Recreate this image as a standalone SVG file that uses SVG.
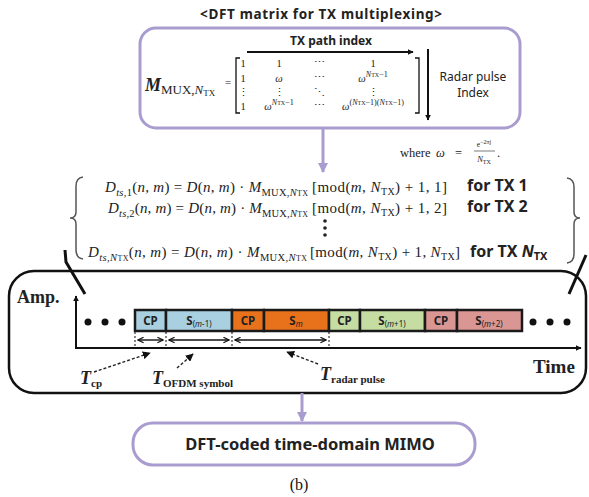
<svg xmlns="http://www.w3.org/2000/svg" width="589" height="497" viewBox="0 0 589 497">
<style>
.sans{font-family:"Noto Sans","Open Sans","Liberation Sans",sans-serif;}
.b{font-weight:bold;}
.ser{font-family:"Liberation Serif","DejaVu Serif",serif;}
.it{font-style:italic;}
.pbox{fill:#fff;stroke:#a99dcf;stroke-width:3;}
.parrow{stroke:#a99dcf;stroke-width:3;fill:none;}
.blk{stroke:#1a1a1a;stroke-width:2.5;}
.thin{stroke:#111;stroke-width:1.3;fill:none;}
.dash{stroke:#222;stroke-width:1.4;stroke-dasharray:3,2;fill:none;}
.sep{stroke:#334;stroke-width:1.2;stroke-dasharray:2,2;fill:none;}
.mx{font-family:"Liberation Serif","DejaVu Serif",serif;font-size:10.5px;fill:#222;}
.eq{font-family:"Liberation Serif","DejaVu Serif",serif;font-size:15px;fill:#222;}
.lbl{font-family:"Noto Sans","Open Sans","Liberation Sans",sans-serif;font-weight:bold;font-size:11.5px;fill:#222;}
</style>
<defs>
<marker id="ah" viewBox="0 0 10 10" refX="9" refY="5" markerWidth="6" markerHeight="6" orient="auto-start-reverse" markerUnits="userSpaceOnUse"><path d="M0,0 L10,5 L0,10 z" fill="#111"/></marker>
<marker id="ahp" viewBox="0 0 10 10" refX="9" refY="5" markerWidth="10" markerHeight="10" orient="auto" markerUnits="userSpaceOnUse"><path d="M0,0 L10,5 L0,10 z" fill="#a99dcf"/></marker>
<marker id="chev" viewBox="0 0 10 10" refX="9" refY="5" markerWidth="7" markerHeight="7" orient="auto-start-reverse" markerUnits="userSpaceOnUse"><path d="M1,1 L9,5 L1,9" fill="none" stroke="#111" stroke-width="1.6"/></marker>
<marker id="dh" viewBox="0 0 10 10" refX="9" refY="5" markerWidth="8" markerHeight="8" orient="auto" markerUnits="userSpaceOnUse"><path d="M0,0 L10,5 L0,10 z" fill="#111"/></marker>
</defs>
<rect width="589" height="497" fill="#fff"/>

<!-- Title -->
<text x="321" y="19" text-anchor="middle" class="sans b" font-size="13.5" fill="#222" textLength="242">&lt;DFT matrix for TX multiplexing&gt;</text>

<!-- Top matrix box -->
<g id="dft-matrix">
<rect class="pbox" x="140" y="28" width="380" height="100" rx="16"/>
<text x="331" y="45" text-anchor="middle" class="sans b" font-size="12" fill="#222">TX path index</text>
<line x1="247" y1="52" x2="413" y2="52" stroke="#111" stroke-width="2" marker-end="url(#ah)"/>
<line x1="428" y1="49" x2="428" y2="120" stroke="#111" stroke-width="2" marker-end="url(#ah)"/>
<text x="473" y="81" text-anchor="middle" class="sans" font-size="12" fill="#222">Radar pulse</text>
<text x="473" y="97" text-anchor="middle" class="sans" font-size="12" fill="#222">Index</text>
<text x="145" y="91" class="ser" fill="#222"><tspan font-size="18" font-weight="bold" font-style="italic">M</tspan><tspan font-size="13" baseline-shift="-3">MUX,<tspan font-style="italic">N</tspan><tspan font-size="9" baseline-shift="-2">TX</tspan></tspan></text>
<text x="225" y="86" class="ser" font-size="11" fill="#222">=</text>
<path d="M240,58 L236,58 L236,113 L240,113" class="thin"/>
<path d="M415,58 L419,58 L419,113 L415,113" class="thin"/>
<g class="mx" text-anchor="middle">
<text x="243" y="67">1</text><text x="279" y="67">1</text><text x="319" y="66">⋯</text><text x="373" y="67">1</text>
<text x="243" y="82">1</text><text x="279" y="82" font-style="italic">ω</text><text x="319" y="81">⋯</text>
<text x="373" y="82"><tspan font-style="italic">ω</tspan><tspan font-size="8" baseline-shift="5"><tspan font-style="italic">N</tspan><tspan font-size="6">TX</tspan>−1</tspan></text>
<text x="243" y="96">⋮</text><text x="279" y="96">⋮</text><text x="319" y="96">⋱</text><text x="373" y="96">⋮</text>
<text x="243" y="110">1</text>
<text x="279" y="110"><tspan font-style="italic">ω</tspan><tspan font-size="8" baseline-shift="5"><tspan font-style="italic">N</tspan><tspan font-size="6">TX</tspan>−1</tspan></text>
<text x="319" y="109">⋯</text>
<text x="373" y="110"><tspan font-style="italic">ω</tspan><tspan font-size="8" baseline-shift="5">(<tspan font-style="italic">N</tspan><tspan font-size="6">TX</tspan>−1)(<tspan font-style="italic">N</tspan><tspan font-size="6">TX</tspan>−1)</tspan></text>
</g>
</g>

<!-- where omega -->
<g id="where" class="ser" fill="#222">
<text x="400" y="157" font-size="12.5">where</text>
<text x="436" y="157" font-size="12.5" font-style="italic">ω</text>
<text x="455" y="157" font-size="12.5">=</text>
<text x="484" y="147" text-anchor="middle" font-size="7.5">e<tspan baseline-shift="3" font-size="6">−2πj</tspan></text>
<line x1="474" y1="151" x2="495" y2="151" stroke="#222" stroke-width="0.6"/>
<text x="484" y="162" text-anchor="middle" font-size="8.5"><tspan font-style="italic">N</tspan><tspan font-size="6" baseline-shift="-2">TX</tspan></text>
<text x="497" y="157" font-size="12.5">.</text>
</g>

<!-- Equations -->
<g id="equations">
<path d="M83,177 Q76,178 76,186 L76,212 Q76,218 70,218 Q76,218 76,224 L76,250 Q76,258 83,259" fill="none" stroke="#555" stroke-width="1.5"/>
<path d="M567,178 Q574,179 574,187 L574,212 Q574,218 580,218 Q574,218 574,224 L574,254 Q574,262 567,263" fill="none" stroke="#555" stroke-width="1.5"/>
<text x="105" y="192" class="eq" textLength="203"><tspan font-style="italic">D</tspan><tspan font-size="10.5" baseline-shift="-4"><tspan font-style="italic">ts</tspan>,1</tspan>(<tspan font-style="italic">n</tspan>, <tspan font-style="italic">m</tspan>) = <tspan font-style="italic">D</tspan>(<tspan font-style="italic">n</tspan>, <tspan font-style="italic">m</tspan>) · <tspan font-style="italic">M</tspan><tspan font-size="10.5" baseline-shift="-4">MUX,<tspan font-style="italic">N</tspan><tspan font-size="8">TX</tspan></tspan></text>
<text x="312" y="192" class="eq" textLength="135">[mod(<tspan font-style="italic">m</tspan>, <tspan font-style="italic">N</tspan><tspan font-size="10" baseline-shift="-3">TX</tspan>) + 1, 1]</text>
<text x="467" y="191" class="sans b" font-size="16" fill="#222">for TX 1</text>

<text x="108" y="213" class="eq" textLength="200"><tspan font-style="italic">D</tspan><tspan font-size="10.5" baseline-shift="-4"><tspan font-style="italic">ts</tspan>,2</tspan>(<tspan font-style="italic">n</tspan>, <tspan font-style="italic">m</tspan>) = <tspan font-style="italic">D</tspan>(<tspan font-style="italic">n</tspan>, <tspan font-style="italic">m</tspan>) · <tspan font-style="italic">M</tspan><tspan font-size="10.5" baseline-shift="-4">MUX,<tspan font-style="italic">N</tspan><tspan font-size="8">TX</tspan></tspan></text>
<text x="312" y="213" class="eq" textLength="135">[mod(<tspan font-style="italic">m</tspan>, <tspan font-style="italic">N</tspan><tspan font-size="10" baseline-shift="-3">TX</tspan>) + 1, 2]</text>
<text x="467" y="212" class="sans b" font-size="16" fill="#222">for TX 2</text>

<circle cx="325" cy="221" r="1.8" fill="#222"/>
<circle cx="325" cy="228" r="1.8" fill="#222"/>
<circle cx="325" cy="235" r="1.8" fill="#222"/>

<text x="88" y="257" class="eq" textLength="219"><tspan font-style="italic">D</tspan><tspan font-size="10.5" baseline-shift="-4"><tspan font-style="italic">ts</tspan>,<tspan font-style="italic">N</tspan><tspan font-size="8">TX</tspan></tspan>(<tspan font-style="italic">n</tspan>, <tspan font-style="italic">m</tspan>) = <tspan font-style="italic">D</tspan>(<tspan font-style="italic">n</tspan>, <tspan font-style="italic">m</tspan>) · <tspan font-style="italic">M</tspan><tspan font-size="10.5" baseline-shift="-4">MUX,<tspan font-style="italic">N</tspan><tspan font-size="8">TX</tspan></tspan></text>
<text x="310" y="257" class="eq" textLength="150">[mod(<tspan font-style="italic">m</tspan>, <tspan font-style="italic">N</tspan><tspan font-size="10" baseline-shift="-3">TX</tspan>) + 1, <tspan font-style="italic">N</tspan><tspan font-size="10" baseline-shift="-3">TX</tspan>]</text>
<text x="470" y="257" class="sans b" font-size="16" fill="#222">for TX <tspan font-style="italic">N</tspan><tspan font-size="11" baseline-shift="-3">TX</tspan></text>
</g>

<!-- Time-domain frame -->
<g id="time-frame">
<rect x="9" y="271" width="577" height="122" rx="25" fill="none" stroke="#111" stroke-width="2.5"/>
<text x="17" y="303" class="ser b" font-size="18" fill="#222">Amp.</text>
<text x="533" y="373" class="ser b" font-size="19" fill="#222">Time</text>
</g>

<!-- zoom lines -->
<polyline points="65,250 66,262 85,294" fill="none" stroke="#111" stroke-width="3"/>
<line x1="586" y1="255" x2="569" y2="294" stroke="#111" stroke-width="3"/>

<!-- blocks -->
<g id="blocks">
<g id="blk-m-1">
<rect x="135" y="310" width="31" height="21" fill="#a9d0e0" class="blk"/>
<rect x="166" y="310" width="66" height="21" fill="#a9d0e0" class="blk"/>
<text x="150.5" y="325" text-anchor="middle" class="lbl">CP</text>
<text x="199" y="325" text-anchor="middle" class="lbl">S<tspan font-size="8" font-weight="normal" baseline-shift="-2">(<tspan font-style="italic">m</tspan>-1)</tspan></text>
</g>
<g id="blk-m">
<rect x="232" y="310" width="32" height="21" fill="#e8711c" class="blk"/>
<rect x="264" y="310" width="65" height="21" fill="#e8711c" class="blk"/>
<text x="248" y="325" text-anchor="middle" class="lbl">CP</text>
<text x="296" y="325" text-anchor="middle" class="lbl">S<tspan font-size="8" font-weight="normal" font-style="italic" baseline-shift="-2">m</tspan></text>
</g>
<g id="blk-m1">
<rect x="329" y="310" width="31" height="21" fill="#c5dca2" class="blk"/>
<rect x="360" y="310" width="65" height="21" fill="#c5dca2" class="blk"/>
<text x="344.5" y="325" text-anchor="middle" class="lbl">CP</text>
<text x="392" y="325" text-anchor="middle" class="lbl">S<tspan font-size="8" font-weight="normal" baseline-shift="-2">(<tspan font-style="italic">m</tspan>+1)</tspan></text>
</g>
<g id="blk-m2">
<rect x="425" y="310" width="32" height="21" fill="#d99693" class="blk"/>
<rect x="457" y="310" width="65" height="21" fill="#d99693" class="blk"/>
<text x="441" y="325" text-anchor="middle" class="lbl">CP</text>
<text x="489" y="325" text-anchor="middle" class="lbl">S<tspan font-size="8" font-weight="normal" baseline-shift="-2">(<tspan font-style="italic">m</tspan>+2)</tspan></text>
</g>
<g fill="#111">
<circle cx="88" cy="322" r="3.5"/><circle cx="105" cy="322" r="3.5"/><circle cx="122" cy="322" r="3.5"/>
<circle cx="533" cy="322" r="3.5"/><circle cx="550" cy="322" r="3.5"/><circle cx="567" cy="322" r="3.5"/>
</g>
</g>

<!-- connectors / axes / annotations -->
<g id="connectors">
<line x1="76" y1="348" x2="76" y2="296" stroke="#111" stroke-width="2" marker-end="url(#ah)"/>
<line x1="75" y1="348" x2="581" y2="348" stroke="#111" stroke-width="2" marker-end="url(#ah)"/>
<line class="sep" x1="135" y1="332" x2="135" y2="347"/>
<line class="sep" x1="166" y1="332" x2="166" y2="347"/>
<line class="sep" x1="232" y1="332" x2="232" y2="347"/>
<line class="sep" x1="329" y1="332" x2="329" y2="347"/>
<line x1="138" y1="340" x2="163" y2="340" stroke="#111" stroke-width="1.4" marker-start="url(#chev)" marker-end="url(#chev)"/>
<line x1="169" y1="340" x2="229" y2="340" stroke="#111" stroke-width="1.4" marker-start="url(#chev)" marker-end="url(#chev)"/>
<line x1="235" y1="340" x2="326" y2="340" stroke="#111" stroke-width="1.4" marker-start="url(#chev)" marker-end="url(#chev)"/>
<line class="dash" x1="94" y1="372" x2="150" y2="353" marker-end="url(#dh)"/>
<line class="dash" x1="177" y1="368" x2="193" y2="354" marker-end="url(#dh)"/>
<line class="dash" x1="318" y1="364" x2="287" y2="352" marker-end="url(#dh)"/>
<line class="parrow" x1="323" y1="128" x2="323" y2="172" marker-end="url(#ahp)"/>
<line class="parrow" x1="302" y1="393" x2="302" y2="421" marker-end="url(#ahp)"/>
</g>

<!-- T labels -->
<text x="80" y="384" class="ser it b" font-size="18" fill="#222">T<tspan font-style="normal" font-size="11" baseline-shift="-3">cp</tspan></text>
<text x="152" y="384" class="ser it b" font-size="18" fill="#222">T<tspan font-style="normal" font-size="11" baseline-shift="-3">OFDM symbol</tspan></text>
<text x="320" y="380" class="ser it b" font-size="18" fill="#222">T<tspan font-style="normal" font-size="11" baseline-shift="-3">radar pulse</tspan></text>

<!-- bottom box -->
<g id="mimo">
<rect class="pbox" x="133" y="423" width="342" height="42" rx="20"/>
<text x="310" y="450" text-anchor="middle" class="sans b" font-size="16.5" fill="#222">DFT-coded time-domain MIMO</text>
</g>
<text x="299" y="490" text-anchor="middle" class="ser" font-size="16" fill="#111">(b)</text>
</svg>
